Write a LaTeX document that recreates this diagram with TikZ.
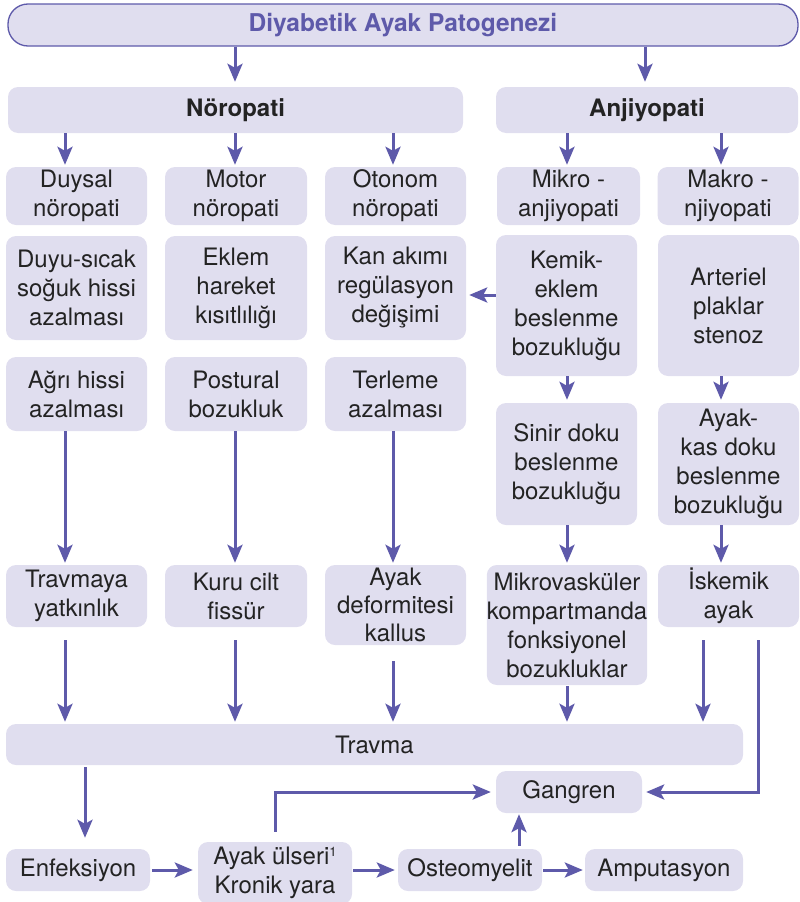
\documentclass[tikz,border=0pt]{standalone}
\usepackage{fontspec}
\setmainfont{TeX Gyre Heros}
\usetikzlibrary{arrows.meta}
\definecolor{boxfill}{RGB}{224,222,239}
\definecolor{flow}{RGB}{94,90,170}
\definecolor{ink}{RGB}{35,35,35}

\begin{document}
\begin{tikzpicture}[x=1pt,y=-1pt,
  box/.style={fill=boxfill, rounded corners=10pt, align=center, inner sep=0pt,
    text=ink, font=\fontsize{24}{29}\selectfont},
  head/.style={box, font=\fontsize{24}{29}\selectfont\bfseries},
  arr/.style={draw=flow, line width=3pt, -{Stealth[length=18pt,width=15pt,inset=4pt]}},
  ]
\useasboundingbox (0,0) rectangle (800,902);

% column guides for the vertical connectors
\coordinate (cA) at (65,0);
\coordinate (cB) at (235,0);
\coordinate (cC) at (393,0);
\coordinate (cD) at (567,0);
\coordinate (cE) at (721,0);
\coordinate (cT) at (645,0);
\coordinate (cF) at (85,0);
\coordinate (cG) at (519,0);
\coordinate (cH) at (758,0);
\coordinate (cI) at (703,0);
\coordinate (ky) at (0,295);

% title
\node[draw=flow, line width=1.3pt, fill=boxfill, rounded corners=20pt,
  minimum width=790pt, minimum height=42pt, inner sep=0pt, text=flow,
  font=\fontsize{24.5}{29}\selectfont\bfseries] (title) at (403,25)
  {Diyabetik Ayak Patogenezi};

% main branches
\node[head, minimum width=455pt, minimum height=46pt] (nor) at (235.5,110) {Nöropati};
\node[head, minimum width=302pt, minimum height=46pt] (anj) at (647,110) {Anjiyopati};

% row 2
\node[box, minimum width=141pt, minimum height=58pt] (duysal) at (76.5,196) {Duysal\\nöropati};
\node[box, minimum width=142pt, minimum height=58pt] (motor) at (236,196) {Motor\\nöropati};
\node[box, minimum width=141pt, minimum height=58pt] (otonom) at (395.5,196) {Otonom\\nöropati};
\node[box, minimum width=143pt, minimum height=58pt] (mikro) at (568.5,196) {Mikro -\\anjiyopati};
\node[box, minimum width=141pt, minimum height=58pt] (makro) at (728,196) {Makro -\\njiyopati};

% row 3
\node[box, minimum width=141pt, minimum height=104pt] (duyu) at (76.5,288) {Duyu-sıcak\\soğuk hissi\\azalması};
\node[box, minimum width=142pt, minimum height=104pt] (eklem) at (236,288) {Eklem\\hareket\\kısıtlılığı};
\node[box, minimum width=141pt, minimum height=104pt] (kan) at (395.5,288) {Kan akımı\\regülasyon\\değişimi};
\node[box, minimum width=141pt, minimum height=141pt] (kemik) at (566.5,305.5) {Kemik-\\eklem\\beslenme\\bozukluğu};
\node[box, minimum width=141pt, minimum height=141pt] (arter) at (728.5,305.5) {Arteriel\\plaklar\\stenoz};

% row 4
\node[box, minimum width=141pt, minimum height=74pt] (agri) at (76.5,394) {Ağrı hissi\\azalması};
\node[box, minimum width=142pt, minimum height=74pt] (postur) at (236,394) {Postural\\bozukluk};
\node[box, minimum width=141pt, minimum height=74pt] (terle) at (395.5,394) {Terleme\\azalması};
\node[box, minimum width=141pt, minimum height=122pt] (sinir) at (566.5,464) {Sinir doku\\beslenme\\bozukluğu};
\node[box, minimum width=141pt, minimum height=122pt] (kas) at (728.5,464) {Ayak-\\kas doku\\beslenme\\bozukluğu};

% row 5
\node[box, minimum width=141pt, minimum height=62pt] (travy) at (76.5,596) {Travmaya\\yatkınlık};
\node[box, minimum width=142pt, minimum height=62pt] (kuru) at (236,596) {Kuru cilt\\fissür};
\node[box, minimum width=141pt, minimum height=80pt,
  font=\fontsize{24}{28}\selectfont] (deform) at (395.5,605) {Ayak\\deformitesi\\kallus};
\node[box, minimum width=160pt, minimum height=120pt] (mvask) at (567,625) {Mikrovasküler\\kompartmanda\\fonksiyonel\\bozukluklar};
\node[box, minimum width=141pt, minimum height=62pt] (iskem) at (728.5,596) {İskemik\\ayak};

% outcome boxes
\node[box, minimum width=737pt, minimum height=41pt] (travma) at (374.5,744.5) {Travma};
\node[box, minimum width=146pt, minimum height=42pt] (gangren) at (569,792) {Gangren};
\node[box, minimum width=144pt, minimum height=42pt] (enf) at (78,870) {Enfeksiyon};
\node[box, minimum width=154pt, minimum height=62pt] (ulser) at (275,873) {Ayak ülseri{\fontsize{13}{13}\selectfont\raisebox{8pt}{1}}\\Kronik yara};
\node[box, minimum width=144pt, minimum height=42pt] (osteo) at (470,870) {Osteomyelit};
\node[box, minimum width=158pt, minimum height=42pt] (amput) at (664,870) {Amputasyon};

% title to branches
\draw[arr, shorten >=5pt] (title.south -| cB) -- (nor.north -| cB);
\draw[arr, shorten >=5pt] (title.south -| cT) -- (anj.north -| cT);

% branches to subtypes
\draw[arr, shorten >=2pt] (nor.south -| cA) -- (duysal.north -| cA);
\draw[arr, shorten >=2pt] (nor.south -| cB) -- (motor.north -| cB);
\draw[arr, shorten >=2pt] (nor.south -| cC) -- (otonom.north -| cC);
\draw[arr, shorten >=2pt] (anj.south -| cD) -- (mikro.north -| cD);
\draw[arr, shorten >=2pt] (anj.south -| cE) -- (makro.north -| cE);

% angiopathy chain
\draw[arr, shorten >=3pt] (kemik.west |- ky) -- (kan.east |- ky);
\draw[arr, shorten >=3pt] (kemik.south -| cD) -- (sinir.north -| cD);
\draw[arr, shorten >=3pt] (arter.south -| cE) -- (kas.north -| cE);
\draw[arr, shorten >=2pt] (sinir.south -| cD) -- (mvask.north -| cD);
\draw[arr, shorten >=2pt] (kas.south -| cE) -- (iskem.north -| cE);

% neuropathy chain
\draw[arr, shorten >=2pt] (agri.south -| cA) -- (travy.north -| cA);
\draw[arr, shorten >=2pt] (postur.south -| cB) -- (kuru.north -| cB);
\draw[arr, shorten >=2pt] (terle.south -| cC) -- (deform.north -| cC);

% into trauma
\draw[arr, shorten <=13pt, shorten >=2pt] (travy.south -| cA) -- (travma.north -| cA);
\draw[arr, shorten <=13pt, shorten >=2pt] (kuru.south -| cB) -- (travma.north -| cB);
\draw[arr, shorten <=16pt, shorten >=2pt] (deform.south -| cC) -- (travma.north -| cC);
\draw[arr, shorten <=1pt, shorten >=2pt] (mvask.south -| cD) -- (travma.north -| cD);
\draw[arr, shorten <=13pt, shorten >=2pt] (iskem.south -| cI) -- (travma.north -| cI);

% ischemia straight to gangrene
\draw[arr, shorten <=13pt, shorten >=4pt] (iskem.south -| cH) |- (gangren.east);

% final course
\draw[arr, shorten <=2pt, shorten >=11pt] (travma.south -| cF) -- (enf.north -| cF);
\draw[arr, shorten <=2pt, shorten >=5pt] (enf.east) -- (ulser.west |- enf.east);
\draw[arr, shorten <=10pt, shorten >=5pt] (ulser.north) |- (gangren.west);
\draw[arr, shorten <=1pt, shorten >=3pt] (ulser.east |- osteo.west) -- (osteo.west);
\draw[arr, shorten <=3pt, shorten >=1pt] (osteo.north -| cG) -- (gangren.south -| cG);
\draw[arr, shorten <=1pt, shorten >=2pt] (osteo.east) -- (amput.west);
\end{tikzpicture}
\end{document}
